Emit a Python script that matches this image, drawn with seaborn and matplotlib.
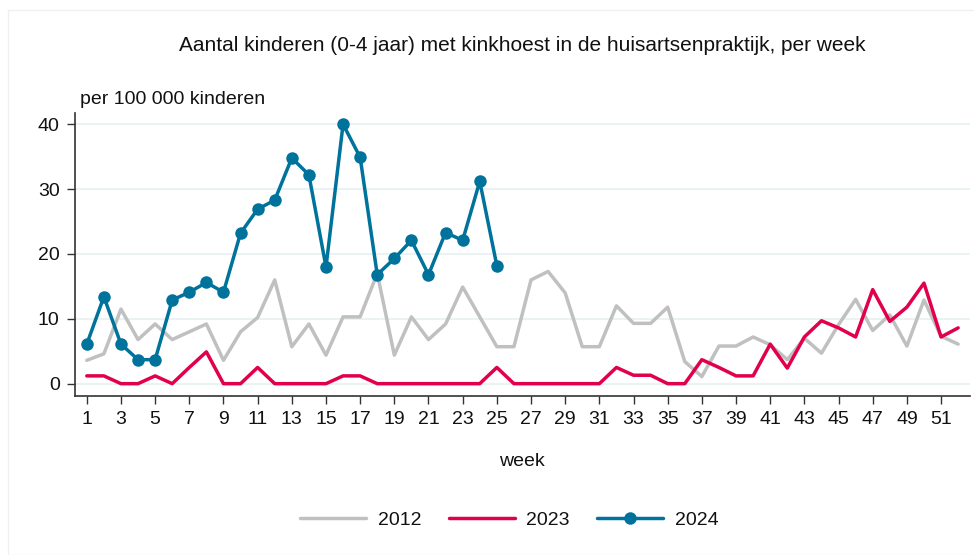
import numpy as np
import pandas as pd
import matplotlib
matplotlib.use("Agg")
import matplotlib.pyplot as plt
import seaborn as sns
from matplotlib.ticker import MultipleLocator

sns.set_style("white")
plt.rcParams['font.family'] = ['Liberation Sans', 'DejaVu Sans']

# per 100 000 kinderen, per week
weeks_2012 = list(range(1, 53))
cases_2012 = [3.6, 4.6, 11.5, 6.8, 9.2, 6.8, 8.0, 9.2, 3.6, 8.0,
              10.2, 16.0, 5.7, 9.2, 4.4, 10.3, 10.3, 17.0, 4.4, 10.3,
              6.8, 9.2, 14.9, 10.3, 5.7, 5.7, 16.0, 17.3, 14.0, 5.7,
              5.7, 12.0, 9.3, 9.3, 11.8, 3.4, 1.1, 5.8, 5.8, 7.2,
              6.0, 3.7, 7.0, 4.7, 9.1, 13.0, 8.2, 10.6, 5.8, 12.9,
              7.3, 6.1]

weeks_2023 = list(range(1, 53))
cases_2023 = [1.2, 1.2, 0, 0, 1.2, 0, 2.5, 4.9, 0, 0,
              2.5, 0, 0, 0, 0, 1.2, 1.2, 0, 0, 0,
              0, 0, 0, 0, 2.5, 0, 0, 0, 0, 0,
              0, 2.5, 1.3, 1.3, 0, 0, 3.7, 2.5, 1.2, 1.2,
              6.1, 2.4, 7.2, 9.7, 8.6, 7.2, 14.5, 9.6, 11.8, 15.5,
              7.2, 8.6]

weeks_2024 = list(range(1, 26))
cases_2024 = [6.1, 13.4, 6.1, 3.7, 3.7, 12.9, 14.1, 15.6, 14.1, 23.2,
              26.9, 28.3, 34.8, 32.2, 18.0, 40.0, 34.9, 16.8, 19.3, 22.1,
              16.8, 23.3, 22.1, 31.2, 18.2]

colors = {"2012": "#c0c0c0", "2023": "#e2004d", "2024": "#00739c"}

fig = plt.figure(figsize=(9.74, 5.55), dpi=100)
ax = fig.add_axes([0.077, 0.2865, 0.919, 0.5095])

sns.lineplot(x=weeks_2012, y=cases_2012, ax=ax, color=colors["2012"],
             linewidth=2.5, label="2012")
sns.lineplot(x=weeks_2023, y=cases_2023, ax=ax, color=colors["2023"],
             linewidth=2.5, label="2023")
sns.lineplot(x=weeks_2024, y=cases_2024, ax=ax, color=colors["2024"],
             linewidth=2.5, marker="o", markersize=9, markeredgewidth=0,
             label="2024")

ax.set_xlim(0.31, 52.7)
ax.set_ylim(-1.9, 41.7)
ax.set_yticks([0, 10, 20, 30, 40])
ax.xaxis.set_minor_locator(MultipleLocator(1))
ax.set_xticks(range(1, 53, 2))
ax.tick_params(axis="both", which="major", direction="out", length=6,
               width=1, color="#333333", labelsize=14, labelcolor="#111111", pad=5)
ax.tick_params(axis="x", which="minor", direction="out", length=3,
               width=1, color="#333333")
ax.tick_params(axis="x", which="major", bottom=True)
ax.tick_params(axis="y", which="major", left=True)
ax.grid(axis="y", color="#e6f0f1", linewidth=1.2)
ax.set_axisbelow(True)

for side in ["top", "right"]:
    ax.spines[side].set_visible(False)
for side in ["left", "bottom"]:
    ax.spines[side].set_color("#333333")
    ax.spines[side].set_linewidth(1.2)

ax.set_xlabel("")
ax.set_ylabel("")
ax.legend_.remove()

fig.text(0.536, 1 - 45 / 555, "Aantal kinderen (0-4 jaar) met kinkhoest in de huisartsenpraktijk, per week",
         ha="center", va="center", fontsize=15, color="#111111")
fig.text(80 / 974, 1 - 99 / 555, "per 100 000 kinderen", ha="left", va="center",
         fontsize=14, color="#111111")
fig.text(522 / 974, 1 - 461 / 555, "week", ha="center", va="center", fontsize=14,
         color="#111111")

handles, labels = ax.get_legend_handles_labels()
fig.legend(handles, labels, loc="center", bbox_to_anchor=(0.523, 1 - 520 / 555),
           ncol=3, frameon=False, fontsize=14, handlelength=3.4,
           handletextpad=0.6, columnspacing=1.4, labelcolor="#111111")

# faint outer frame
fig.patches.append(plt.Rectangle((8 / 974, 0), 1, 1 - 10 / 555, transform=fig.transFigure,
                                 fill=False, edgecolor="#f0f0f0", linewidth=1))

fig.savefig("out.png", dpi=100)
